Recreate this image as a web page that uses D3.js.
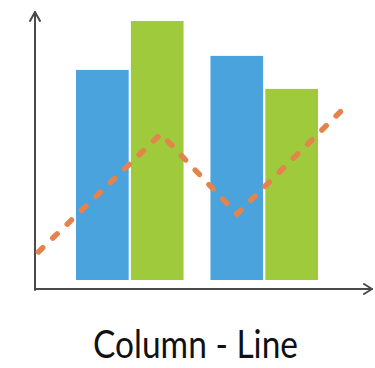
<!DOCTYPE html>
<html>
<head>
<meta charset="utf-8">
<script src="https://cdn.jsdelivr.net/npm/d3@7"></script>
<style>
  html, body { margin: 0; padding: 0; background: #ffffff; }
  svg { display: block; }
</style>
</head>
<body>
<svg id="chart" width="375" height="368"></svg>
<script>
// ---- data ----
const groups = ["G1", "G2"];
const seriesNames = ["Blue", "Green"];
const blueValues = [80.8, 86.2];
const greenValues = [99.6, 73.5];
const lineX = [0.1, 3.7, 5.94, 9.12];
const lineValues = [10.8, 56.2, 25.4, 66.5];
const titleText = "Column - Line";

// ---- layout ----
const svg = d3.select("#chart");
const axisX = 35, axisY = 289;
const baseY = 280;

const y = d3.scaleLinear().domain([0, 100]).range([baseY, 20]);
const xGroup = d3.scaleBand().domain(groups).range([76, 318]).paddingInner(0.2).paddingOuter(0);
const xInner = d3.scaleBand().domain(seriesNames).range([0, xGroup.bandwidth()]).paddingInner(0.04);
const xLine = d3.scaleLinear().domain([0, 10]).range([35, 375]);
const colors = d3.scaleOrdinal().domain(seriesNames).range(["#4ba3de", "#9eca3b"]);

const barData = [];
groups.forEach((g, i) => {
  barData.push({ group: g, series: "Blue", value: blueValues[i] });
  barData.push({ group: g, series: "Green", value: greenValues[i] });
});

// bars
svg.append("g").selectAll("rect").data(barData).join("rect")
  .attr("x", d => xGroup(d.group) + xInner(d.series))
  .attr("y", d => y(d.value))
  .attr("width", xInner.bandwidth())
  .attr("height", d => baseY - y(d.value))
  .attr("fill", d => colors(d.series));

// axes
const axisColor = "#4a4a4a";
const ax = svg.append("g").attr("stroke", axisColor).attr("stroke-width", 2).attr("fill", "none")
  .attr("stroke-linecap", "round").attr("stroke-linejoin", "round");
ax.append("line").attr("x1", axisX).attr("y1", axisY + 1).attr("x2", axisX).attr("y2", 12);
ax.append("path").attr("d", `M${axisX - 5},${21} L${axisX},${12} L${axisX + 5},${21}`);
ax.append("line").attr("x1", axisX).attr("y1", axisY).attr("x2", 372).attr("y2", axisY);
ax.append("path").attr("d", `M${364},${axisY - 5} L${372},${axisY} L${364},${axisY + 5}`);

// dashed line
const lineData = lineX.map((v, i) => ({ x: v, v: lineValues[i] }));
svg.append("path")
  .datum(lineData)
  .attr("fill", "none")
  .attr("stroke", "#e5834c")
  .attr("stroke-width", 5.5)
  .attr("stroke-linecap", "round")
  .attr("stroke-dasharray", "6,14")
  .attr("d", d3.line().x(d => xLine(d.x)).y(d => y(d.v)));

// title
svg.append("text")
  .attr("x", 93)
  .attr("y", 358)
  .attr("textLength", 205)
  .attr("lengthAdjust", "spacingAndGlyphs")
  .attr("font-family", "'Comic Sans MS', Lato, 'DejaVu Sans', sans-serif")
  .attr("font-size", 38)
  .attr("fill", "#111")
  .text(titleText);
</script>
</body>
</html>
